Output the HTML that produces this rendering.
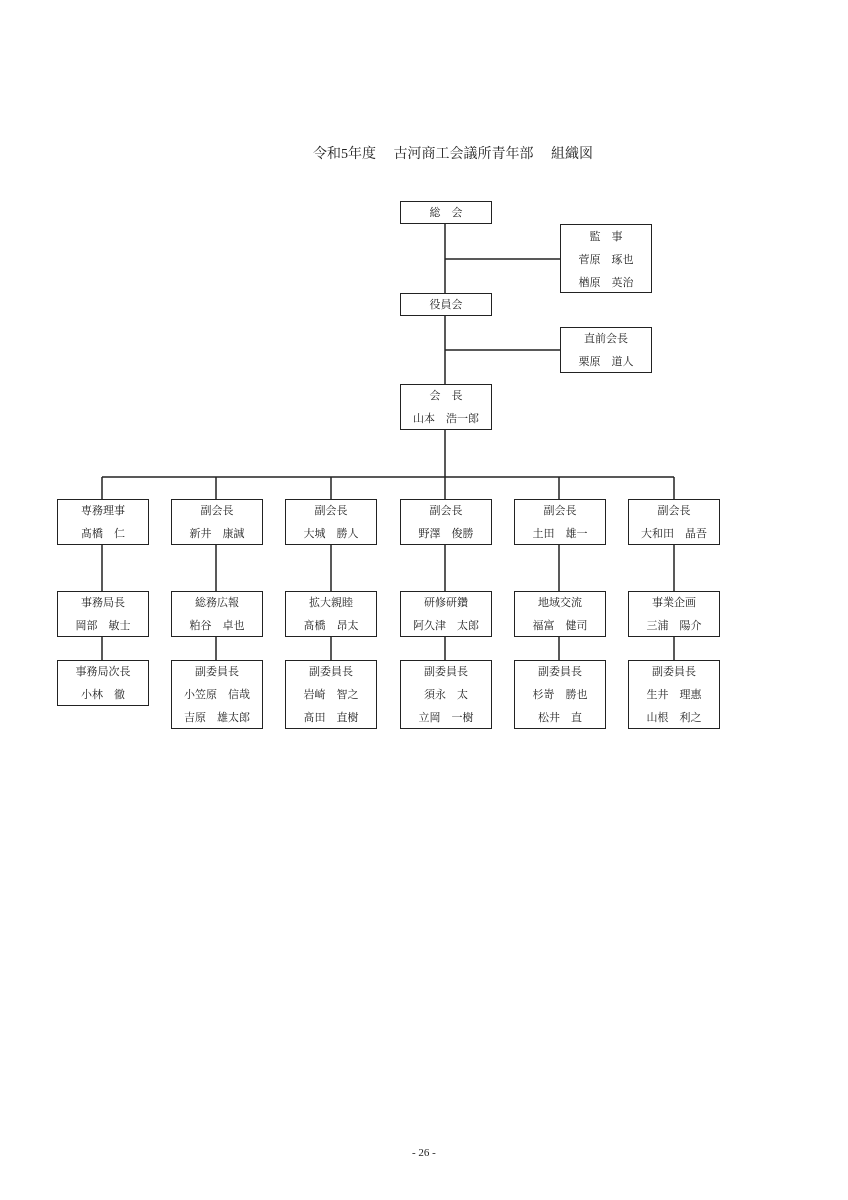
<!DOCTYPE html>
<html><head><meta charset="utf-8"><style>
body{margin:0;width:848px;height:1200px;background:#fff;position:relative;font-family:"Liberation Serif","Noto Serif CJK SC",serif;color:#222}
.b{position:absolute;border:1.5px solid #222;box-sizing:border-box;background:#fff;text-align:center;font-size:11px;line-height:23px;padding-top:0}
.t{position:absolute;left:313px;top:143px;font-size:14px;white-space:pre;letter-spacing:0}
.p{position:absolute;left:412px;top:1147px;font-size:11px}
</style></head><body>
<svg width="848" height="1200" style="position:absolute;left:0;top:0" stroke="#222" stroke-width="1.5">
<line x1="445" y1="223" x2="445" y2="477"/>
<line x1="445" y1="259" x2="560" y2="259"/>
<line x1="445" y1="350" x2="560" y2="350"/>
<line x1="102" y1="477" x2="674" y2="477"/>
<g id="c"></g>
<line x1="102" y1="477" x2="102" y2="660"/>
<line x1="216" y1="477" x2="216" y2="660"/>
<line x1="331" y1="477" x2="331" y2="660"/>
<line x1="445" y1="477" x2="445" y2="660"/>
<line x1="559" y1="477" x2="559" y2="660"/>
<line x1="674" y1="477" x2="674" y2="660"/>
</svg>
<div class="t">令和5年度　 古河商工会議所青年部　 組織図</div>
<div class="b" style="left:400px;top:201px;width:92px;height:23px">総　会</div>
<div class="b" style="left:560px;top:224px;width:92px;height:69px;padding-top:1px">監　事<br>菅原　琢也<br>楢原　英治</div>
<div class="b" style="left:400px;top:293px;width:92px;height:23px">役員会</div>
<div class="b" style="left:560px;top:327px;width:92px;height:46px;padding-top:0">直前会長<br>栗原　道人</div>
<div class="b" style="left:400px;top:384px;width:92px;height:46px">会　長<br>山本　浩一郎</div>

<div class="b" style="left:57px;top:499px;width:92px;height:46px">専務理事<br>髙橋　仁</div>
<div class="b" style="left:171px;top:499px;width:92px;height:46px">副会長<br>新井　康誠</div>
<div class="b" style="left:285px;top:499px;width:92px;height:46px">副会長<br>大城　勝人</div>
<div class="b" style="left:400px;top:499px;width:92px;height:46px">副会長<br>野澤　俊勝</div>
<div class="b" style="left:514px;top:499px;width:92px;height:46px">副会長<br>土田　雄一</div>
<div class="b" style="left:628px;top:499px;width:92px;height:46px">副会長<br>大和田　晶吾</div>

<div class="b" style="left:57px;top:591px;width:92px;height:46px">事務局長<br>岡部　敏士</div>
<div class="b" style="left:171px;top:591px;width:92px;height:46px">総務広報<br>粕谷　卓也</div>
<div class="b" style="left:285px;top:591px;width:92px;height:46px">拡大親睦<br>髙橋　昂太</div>
<div class="b" style="left:400px;top:591px;width:92px;height:46px">研修研鑽<br>阿久津　太郎</div>
<div class="b" style="left:514px;top:591px;width:92px;height:46px">地域交流<br>福富　健司</div>
<div class="b" style="left:628px;top:591px;width:92px;height:46px">事業企画<br>三浦　陽介</div>

<div class="b" style="left:57px;top:660px;width:92px;height:46px">事務局次長<br>小林　徹</div>
<div class="b" style="left:171px;top:660px;width:92px;height:69px">副委員長<br>小笠原　信哉<br>吉原　雄太郎</div>
<div class="b" style="left:285px;top:660px;width:92px;height:69px">副委員長<br>岩崎　智之<br>髙田　直樹</div>
<div class="b" style="left:400px;top:660px;width:92px;height:69px">副委員長<br>須永　太<br>立岡　一樹</div>
<div class="b" style="left:514px;top:660px;width:92px;height:69px">副委員長<br>杉嵜　勝也<br>松井　直</div>
<div class="b" style="left:628px;top:660px;width:92px;height:69px">副委員長<br>生井　理惠<br>山根　利之</div>
<div class="p">- 26 -</div>
</body></html>
